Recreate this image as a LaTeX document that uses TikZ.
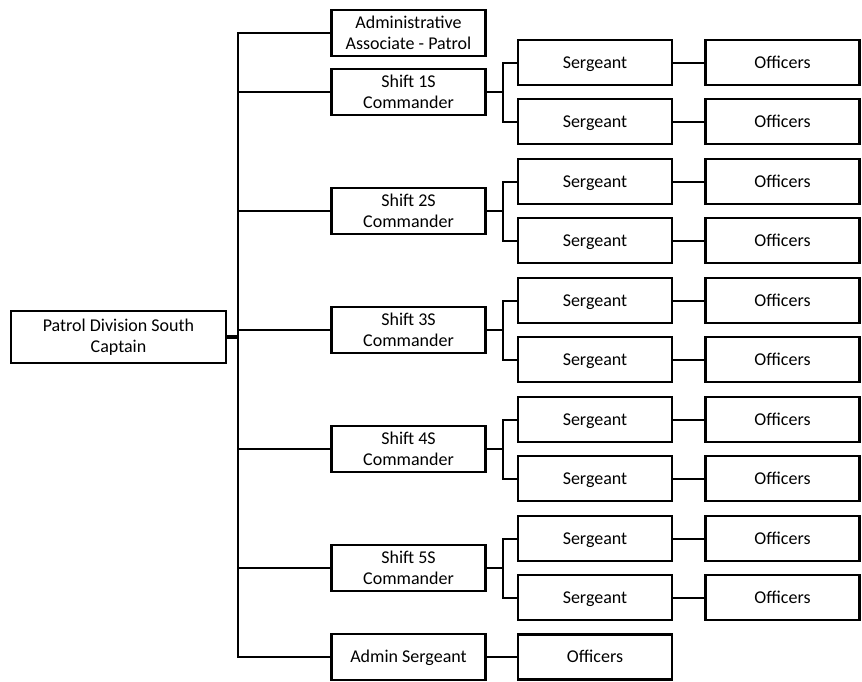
\documentclass[tikz,border=0pt]{standalone}
\usepackage{fontspec}
\setmainfont{Carlito}
\begin{document}
\begin{tikzpicture}[x=1pt,y=-1pt,
  box/.style={draw,line width=2.6pt,align=center,inner sep=0pt,font=\fontsize{18}{21}\selectfont},
  wide/.style={box,minimum width=154pt,minimum height=45pt},
  one/.style={wide,text height=13pt,text depth=1.6pt},
  tall/.style={wide,minimum height=46pt},
  link/.style={line width=2pt}]
\useasboundingbox (0,0) rectangle (862,681);
\coordinate (sp) at (238,0);
\node[box,minimum width=215pt,minimum height=52pt] (cap) at (118.5,337) {Patrol Division South\\Captain};
\node[tall] (aa) at (408.5,33) {Administrative\\Associate - Patrol};
\node[tall,text height=13pt,text depth=1.6pt] (as) at (408.5,657) {Admin Sergeant};
\node[one] (ao) at (595,657) {Officers};
\foreach \k in {1,...,5} {
  \pgfmathsetmacro\cy{92+(\k-1)*119}
  \node[tall] (s\k) at (408.5,\cy) {Shift \k S\\Commander};
  \node[one] (sa\k) at (595,\cy-29.5) {Sergeant};
  \node[one] (sb\k) at (595,\cy+29.5) {Sergeant};
  \node[one] (oa\k) at (782.5,\cy-29.5) {Officers};
  \node[one] (ob\k) at (782.5,\cy+29.5) {Officers};
  \draw[link] (s\k.west) -- (s\k.west -| sp);
  \draw[link] (s\k.east) -- ++(16,0) |- (sa\k.west);
  \draw[link] (s\k.east) -- ++(16,0) |- (sb\k.west);
  \draw[link] (sa\k) -- (oa\k);
  \draw[link] (sb\k) -- (ob\k);
}
\draw[link] (aa.west) -- (aa.west -| sp) -- (as.west -| sp) -- (as.west);
\draw[link] (as) -- (ao);
\draw[line width=3.2pt] (cap.east) -- (cap.east -| sp);
\end{tikzpicture}
\end{document}
